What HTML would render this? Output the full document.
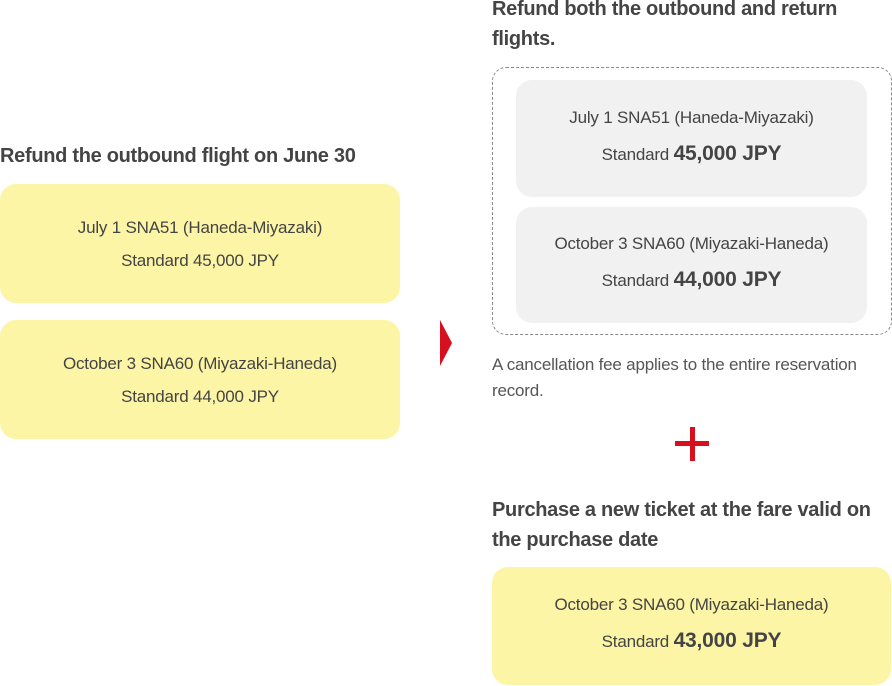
<!DOCTYPE html>
<html><head><meta charset="utf-8"><style>
body{margin:0;width:892px;height:686px;background:#fff;position:relative;overflow:hidden;font-family:"Liberation Sans",sans-serif;color:#444}
.a{position:absolute}
.h{font-weight:bold;font-size:20px;letter-spacing:-0.3px;line-height:30px;color:#444}
.box{position:absolute;border-radius:16px;text-align:center;font-size:17px;letter-spacing:-0.2px;color:#444}
.y{background:#fdf5a6}
.g{background:#f1f1f1}
.box div{position:absolute;left:0;right:0}
b.p{font-size:21px;color:#444}
.t{font-size:17px;letter-spacing:-0.2px;line-height:26px;color:#555}
</style></head><body>
<div class="a h" style="left:0;top:141px;white-space:nowrap">Refund the outbound flight on June 30</div>
<div class="box y" style="left:0;top:184px;width:400px;height:119px">
<div style="top:34px">July 1 SNA51 (Haneda-Miyazaki)</div>
<div style="top:67px">Standard 45,000 JPY</div></div>
<div class="box y" style="left:0;top:320px;width:400px;height:119px">
<div style="top:34px">October 3 SNA60 (Miyazaki-Haneda)</div>
<div style="top:67px">Standard 44,000 JPY</div></div>
<svg class="a" style="left:440px;top:320px" width="13" height="46"><polygon points="0,0 12,23 0,46" fill="#d7101f"/></svg>
<div class="a h" style="left:492px;top:-6px;width:360px">Refund both the outbound and return flights.</div>
<div class="a" style="left:492px;top:67px;width:398px;height:266px;border:1px dashed #888;border-radius:14px"></div>
<div class="box g" style="left:516px;top:80px;width:351px;height:117px">
<div style="top:28px">July 1 SNA51 (Haneda-Miyazaki)</div>
<div style="top:62px">Standard <b class="p">45,000 JPY</b></div></div>
<div class="box g" style="left:516px;top:207px;width:351px;height:116px">
<div style="top:27px">October 3 SNA60 (Miyazaki-Haneda)</div>
<div style="top:61px">Standard <b class="p">44,000 JPY</b></div></div>
<div class="a t" style="left:492px;top:352px;width:396px">A cancellation fee applies to the entire reservation record.</div>
<div class="a" style="left:675px;top:441px;width:34px;height:5px;background:#d7101f"></div>
<div class="a" style="left:690px;top:427px;width:5px;height:34px;background:#d7101f"></div>
<div class="a h" style="left:492px;top:495px;width:400px">Purchase a new ticket at the fare valid on the purchase date</div>
<div class="box y" style="left:492px;top:567px;width:399px;height:118px">
<div style="top:28px">October 3 SNA60 (Miyazaki-Haneda)</div>
<div style="top:62px">Standard <b class="p">43,000 JPY</b></div></div>
</body></html>
